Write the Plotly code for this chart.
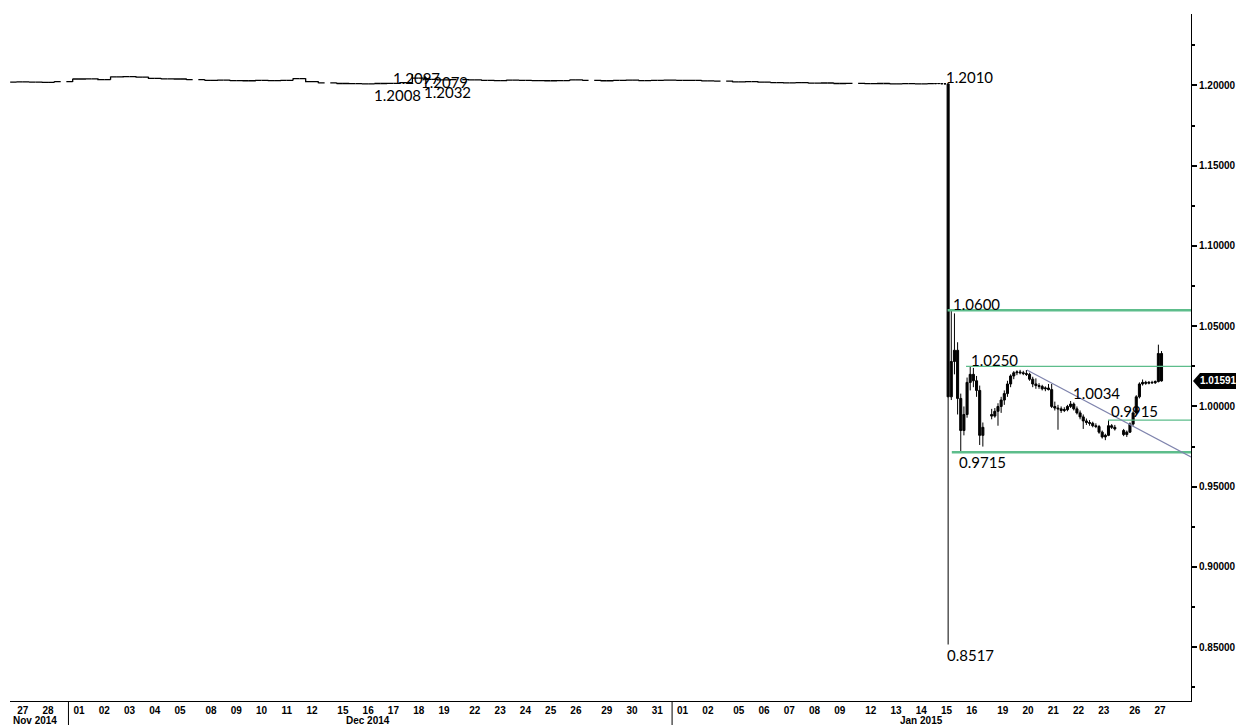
import plotly.graph_objects as go

# ---------------- data ----------------
trading_days = [
    "2014-11-27", "2014-11-28",
    "2014-12-01", "2014-12-02", "2014-12-03", "2014-12-04", "2014-12-05",
    "2014-12-08", "2014-12-09", "2014-12-10", "2014-12-11", "2014-12-12",
    "2014-12-15", "2014-12-16", "2014-12-17", "2014-12-18", "2014-12-19",
    "2014-12-22", "2014-12-23", "2014-12-24", "2014-12-25", "2014-12-26",
    "2014-12-29", "2014-12-30", "2014-12-31", "2015-01-01", "2015-01-02",
    "2015-01-05", "2015-01-06", "2015-01-07", "2015-01-08", "2015-01-09",
    "2015-01-12", "2015-01-13", "2015-01-14", "2015-01-15", "2015-01-16",
    "2015-01-19", "2015-01-20", "2015-01-21", "2015-01-22", "2015-01-23",
    "2015-01-26", "2015-01-27",
]
day_labels = [
    "27", "28",
    "01", "02", "03", "04", "05", "08", "09", "10", "11", "12",
    "15", "16", "17", "18", "19", "22", "23", "24", "25", "26",
    "29", "30", "31",
    "01", "02", "05", "06", "07", "08", "09", "12", "13", "14", "15", "16",
    "19", "20", "21", "22", "23", "26", "27",
]
month_labels = ["Nov 2014", "Dec 2014", "Jan 2015"]
weekend_starts = ["2014-11-29", "2014-12-06", "2014-12-13", "2014-12-20", "2014-12-27",
                  "2015-01-03", "2015-01-10", "2015-01-17", "2015-01-24"]

# before the SNB move: two bars per day (06:00 / 18:00)
pre_open = [
    1.2020, 1.2022, 1.2021, 1.2019,
    1.2024, 1.2040, 1.2041, 1.2036, 1.2053, 1.2055, 1.2052, 1.2044, 1.2041, 1.2040,
    1.2036, 1.2032, 1.2033, 1.2030, 1.2029, 1.2031, 1.2030, 1.2032, 1.2042, 1.2024,
    1.2016, 1.2012, 1.2011, 1.2010, 1.2012, 1.2013, 1.2018, 1.2045, 1.2038, 1.2034,
    1.2036, 1.2035, 1.2032, 1.2030, 1.2033, 1.2031, 1.2030, 1.2029, 1.2030, 1.2034,
    1.2032, 1.2029, 1.2031, 1.2033, 1.2030, 1.2032, 1.2033, 1.2032, 1.2031, 1.2028,
    1.2027, 1.2022, 1.2024, 1.2021, 1.2018, 1.2016, 1.2017, 1.2014, 1.2015, 1.2012,
    1.2013, 1.2011, 1.2012, 1.2010, 1.2011, 1.2010,
]
pre_high = [
    1.2024, 1.2025, 1.2024, 1.2026,
    1.2042, 1.2045, 1.2044, 1.2056, 1.2058, 1.2058, 1.2054, 1.2047, 1.2045, 1.2043,
    1.2038, 1.2036, 1.2036, 1.2034, 1.2033, 1.2035, 1.2034, 1.2045, 1.2044, 1.2026,
    1.2018, 1.2015, 1.2014, 1.2013, 1.2016, 1.2020, 1.2070, 1.2060, 1.2042, 1.2040,
    1.2040, 1.2039, 1.2036, 1.2035, 1.2036, 1.2034, 1.2033, 1.2032, 1.2036, 1.2038,
    1.2035, 1.2034, 1.2035, 1.2037, 1.2034, 1.2035, 1.2034, 1.2034, 1.2034, 1.2031,
    1.2030, 1.2026, 1.2027, 1.2023, 1.2021, 1.2020, 1.2020, 1.2018, 1.2018, 1.2016,
    1.2016, 1.2014, 1.2015, 1.2013, 1.2013, 1.2013,
]
pre_low = [
    1.2018, 1.2019, 1.2017, 1.2018,
    1.2022, 1.2036, 1.2033, 1.2035, 1.2049, 1.2050, 1.2040, 1.2038, 1.2037, 1.2034,
    1.2030, 1.2028, 1.2027, 1.2026, 1.2025, 1.2027, 1.2026, 1.2030, 1.2020, 1.2013,
    1.2010, 1.2009, 1.2008, 1.2008, 1.2009, 1.2010, 1.2016, 1.2032, 1.2030, 1.2029,
    1.2031, 1.2030, 1.2027, 1.2026, 1.2029, 1.2028, 1.2027, 1.2027, 1.2028, 1.2030,
    1.2027, 1.2026, 1.2028, 1.2029, 1.2027, 1.2029, 1.2031, 1.2030, 1.2026, 1.2024,
    1.2020, 1.2019, 1.2019, 1.2016, 1.2014, 1.2013, 1.2012, 1.2011, 1.2010, 1.2010,
    1.2010, 1.2009, 1.2009, 1.2008, 1.2008, 1.2008,
]
pre_close = [
    1.2022, 1.2021, 1.2019, 1.2024,
    1.2040, 1.2041, 1.2036, 1.2053, 1.2055, 1.2052, 1.2044, 1.2041, 1.2040, 1.2036,
    1.2032, 1.2033, 1.2030, 1.2029, 1.2031, 1.2030, 1.2032, 1.2042, 1.2024, 1.2016,
    1.2012, 1.2011, 1.2010, 1.2012, 1.2013, 1.2018, 1.2045, 1.2038, 1.2034, 1.2036,
    1.2035, 1.2032, 1.2030, 1.2033, 1.2031, 1.2030, 1.2029, 1.2030, 1.2034, 1.2032,
    1.2029, 1.2031, 1.2033, 1.2030, 1.2032, 1.2033, 1.2032, 1.2031, 1.2028, 1.2027,
    1.2022, 1.2024, 1.2021, 1.2018, 1.2016, 1.2017, 1.2014, 1.2015, 1.2012, 1.2013,
    1.2011, 1.2012, 1.2010, 1.2011, 1.2010, 1.2011,
]

# from 15 Jan: three-hour bars
post_open = [
    1.2012, 1.2011, 1.2012, 1.2010, 1.2010, 1.0060, 1.0280, 1.0350,
    1.0050, 0.9850, 0.9950, 1.0150, 1.0200, 1.0160, 1.0100, 0.9820,
    0.9950, 0.9940, 0.9970, 1.0000, 1.0040, 1.0080, 1.0140, 1.0190,
    1.0210, 1.0215, 1.0210, 1.0205, 1.0200, 1.0170, 1.0140, 1.0130,
    1.0125, 1.0110, 1.0115, 1.0105, 1.0000, 0.9990, 0.9985, 0.9975,
    0.9980, 1.0000, 1.0015, 0.9985, 0.9960, 0.9935, 0.9910, 0.9900,
    0.9895, 0.9880, 0.9875, 0.9840, 0.9810, 0.9820, 0.9880, 0.9870,
    0.9850, 0.9825, 0.9840, 0.9890, 0.9960, 1.0060, 1.0140, 1.0150,
    1.0145, 1.0150, 1.0148, 1.0155, 1.0330,
]
post_high = [
    1.2014, 1.2013, 1.2013, 1.2012, 1.2010, 1.0600, 1.0580, 1.0400,
    1.0080, 1.0000, 1.0180, 1.0250, 1.0240, 1.0190, 1.0130, 0.9900,
    0.9985, 0.9990, 1.0020, 1.0060, 1.0100, 1.0160, 1.0200, 1.0220,
    1.0225, 1.0228, 1.0222, 1.0227, 1.0210, 1.0185, 1.0175, 1.0145,
    1.0135, 1.0125, 1.0140, 1.0140, 1.0030, 1.0010, 1.0000, 0.9995,
    1.0010, 1.0034, 1.0025, 1.0000, 0.9975, 0.9950, 0.9925, 0.9915,
    0.9905, 0.9895, 0.9885, 0.9850, 0.9830, 0.9915, 0.9890, 0.9885,
    0.9860, 0.9850, 0.9900, 0.9970, 1.0070, 1.0150, 1.0168, 1.0160,
    1.0158, 1.0160, 1.0162, 1.0385, 1.0345,
]
post_low = [
    1.2010, 1.2010, 1.2010, 1.2009, 0.8517, 1.0040, 1.0200, 0.9950,
    0.9715, 0.9820, 0.9930, 1.0100, 1.0120, 1.0060, 0.9760, 0.9750,
    0.9920, 0.9930, 0.9880, 0.9960, 1.0010, 1.0060, 1.0120, 1.0170,
    1.0195, 1.0200, 1.0195, 1.0190, 1.0160, 1.0120, 1.0110, 1.0110,
    1.0100, 1.0095, 1.0100, 0.9990, 0.9975, 0.9855, 0.9960, 0.9965,
    0.9970, 0.9990, 0.9975, 0.9950, 0.9920, 0.9860, 0.9885, 0.9880,
    0.9870, 0.9865, 0.9830, 0.9800, 0.9790, 0.9815, 0.9860, 0.9850,
    0.9815, 0.9810, 0.9835, 0.9880, 0.9950, 1.0050, 1.0130, 1.0135,
    1.0138, 1.0140, 1.0140, 1.0150, 1.0155,
]
post_close = [
    1.2011, 1.2012, 1.2010, 1.2010, 1.0060, 1.0280, 1.0350, 1.0050,
    0.9850, 0.9950, 1.0150, 1.0200, 1.0160, 1.0100, 0.9820, 0.9870,
    0.9940, 0.9970, 1.0000, 1.0040, 1.0080, 1.0140, 1.0190, 1.0210,
    1.0215, 1.0210, 1.0205, 1.0200, 1.0170, 1.0140, 1.0130, 1.0125,
    1.0110, 1.0115, 1.0105, 1.0000, 0.9990, 0.9985, 0.9975, 0.9980,
    1.0000, 1.0015, 0.9985, 0.9960, 0.9935, 0.9910, 0.9900, 0.9895,
    0.9880, 0.9875, 0.9840, 0.9810, 0.9820, 0.9880, 0.9870, 0.9860,
    0.9825, 0.9840, 0.9890, 0.9960, 1.0060, 1.0140, 1.0150, 1.0145,
    1.0150, 1.0148, 1.0155, 1.0330, 1.01591,
]
last_price = 1.01591

# marked levels, their start times, and a falling trend line
level_values = [1.0600, 1.0250, 0.9915, 0.9715]
level_starts = ["2015-01-15 13:00", "2015-01-16 06:30", "2015-01-23 16:00", "2015-01-15 17:00"]
trend_times = ["2015-01-20 11:00", "2015-01-28 17:30"]
trend_values = [1.0227, 0.9685]

# price labels written on the chart
label_texts = ["1.2010", "1.0600", "1.0250", "1.0034", "0.9915", "0.9715", "0.8517",
               "1.2097", "1.2079", "1.2032", "1.2008"]

# ---------------- bar times ----------------
pre_days = trading_days[:35]
post_days = trading_days[35:]
pre_times = [f"{d} {h}" for d in pre_days for h in ("06:00", "18:00")]
bar_hours = ["01:30", "04:30", "07:30", "10:30", "13:30", "16:30", "19:30", "22:30"]
post_times = [f"{d} {h}" for d in post_days for h in bar_hours][:len(post_open)]

X_RANGE = ["2014-11-26 23:50", "2015-01-28 17:30"]
Y_RANGE = [0.8165, 1.2445]
WEEKEND_MS = 1.776 * 86400000
rb = [dict(values=weekend_starts, dvalue=WEEKEND_MS)]

GREEN = "#5dbd8b"
TXT = "Liberation Sans"
LBL = "Lato"

fig = go.Figure()

# flat pre-move period: OHLC bars whose side ticks join into a line
fig.add_trace(go.Ohlc(x=pre_times, open=pre_open, high=pre_high, low=pre_low,
                      close=pre_close, tickwidth=0.5,
                      increasing=dict(line=dict(color="black", width=1.3)),
                      decreasing=dict(line=dict(color="black", width=1.3)),
                      showlegend=False, hoverinfo="skip"))
fig.add_trace(go.Candlestick(
    x=post_times, open=post_open, high=post_high, low=post_low, close=post_close,
    increasing=dict(line=dict(color="black", width=1), fillcolor="black"),
    decreasing=dict(line=dict(color="black", width=1), fillcolor="black"),
    whiskerwidth=0, showlegend=False, hoverinfo="skip"))

widths = [2.5, 1.3, 1.3, 2.5]
for v, s, w in zip(level_values, level_starts, widths):
    fig.add_trace(go.Scatter(x=[s, X_RANGE[1]], y=[v, v], mode="lines",
                             line=dict(color=GREEN, width=w), showlegend=False,
                             hoverinfo="skip"))
fig.add_trace(go.Scatter(x=trend_times, y=trend_values, mode="lines",
                         line=dict(color="#7f84ad", width=1.2), showlegend=False,
                         hoverinfo="skip"))

# label placement (layout only)
label_pos = [
    ("2015-01-15 10:30", 1.2053), ("2015-01-15 17:15", 1.0639), ("2015-01-16 10:20", 1.0290),
    ("2015-01-22 05:50", 1.0084), ("2015-01-23 17:55", 0.9972), ("2015-01-15 22:55", 0.9654),
    ("2015-01-15 11:30", 0.8452), ("2014-12-17 10:40", 1.2047), ("2014-12-18 13:15", 1.2022),
    ("2014-12-18 15:50", 1.1960), ("2014-12-16 16:35", 1.1941),
]
for t, (x, y) in zip(label_texts, label_pos):
    fig.add_annotation(x=x, y=y, xref="x", yref="y", text=t, showarrow=False,
                       xanchor="left", yanchor="middle", borderpad=0,
                       font=dict(family=LBL, size=15, color="black"))

# month labels and separators
month_pos = ["2014-11-28 00:00", "2014-12-16 12:00", "2015-01-14 12:00"]
for m, x in zip(month_labels, month_pos):
    fig.add_annotation(x=x, y=-0.028, xref="x", yref="paper", text=m, showarrow=False,
                       yanchor="middle", font=dict(family=TXT, size=10, color="black", weight="bold"))
for x in ["2014-12-01 02:00", "2015-01-01 02:00"]:
    fig.add_shape(type="line", xref="x", yref="paper", x0=x, x1=x, y0=0, y1=-0.036,
                  line=dict(color="black", width=1))

# last price tag
fig.add_shape(type="path", xref="paper", yref="y", xsizemode="pixel", ysizemode="pixel",
              xanchor=1, yanchor=last_price,
              path="M 2 0 L 9 8 L 45 8 L 45 -8 L 9 -8 Z",
              fillcolor="black", line=dict(width=0))
fig.add_annotation(x=1, y=last_price, xref="paper", yref="y", text=f"{last_price:.5f}",
                   showarrow=False, xanchor="left", xshift=7, yanchor="middle",
                   font=dict(family=TXT, size=10, color="white", weight="bold"))

fig.update_layout(
    width=1236, height=725, autosize=False,
    margin=dict(l=10, r=45, t=14, b=24),
    paper_bgcolor="white", plot_bgcolor="white",
    showlegend=False, boxgap=0.35, boxgroupgap=0,
    xaxis=dict(type="date", range=X_RANGE, rangebreaks=rb, automargin=False,
               rangeslider=dict(visible=False), showgrid=False, zeroline=False,
               showline=True, linecolor="black", linewidth=1,
               ticks="", tickmode="array",
               tickvals=[d + " 12:00" for d in trading_days], ticktext=day_labels,
               tickfont=dict(family=TXT, size=10, color="black", weight="bold")),
    yaxis=dict(side="right", range=Y_RANGE, tick0=0.85, dtick=0.05, tickformat=".5f",
               automargin=False,
               ticks="outside", ticklen=5, tickwidth=2, tickcolor="black",
               showline=True, linecolor="black", linewidth=1,
               showgrid=False, zeroline=False,
               minor=dict(tick0=0.825, dtick=0.025, ticks="outside", ticklen=3,
                          tickcolor="black"),
               tickfont=dict(family=TXT, size=10, color="black", weight="bold")),
)

# remove the page's default body margin so the figure sits at the window's corner
fig.write_html("out.html",
               config={"responsive": False, "displayModeBar": False},
               post_script="document.body.style.margin='0';document.body.style.overflow='hidden';")
